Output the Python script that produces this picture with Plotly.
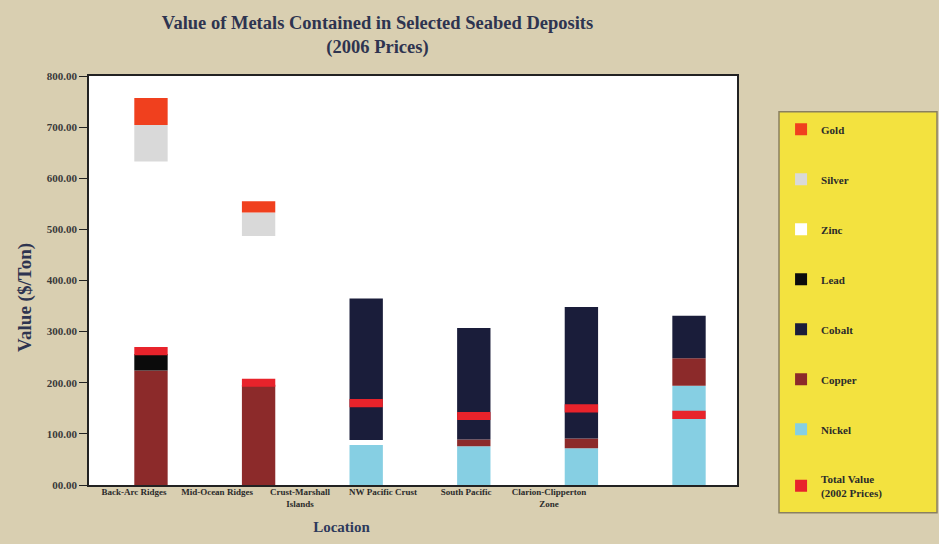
import plotly.graph_objects as go

categories = ["Back-Arc Ridges", "Mid-Ocean Ridges", "Crust-Marshall<br>Islands",
              "NW Pacific Crust", "South Pacific", "Clarion-Clipperton<br>Zone"]
nickel = [0, 0, 78, 76, 72, 194]
copper = [224, 196, 0, 13, 19, 54]
lead = [32, 0, 0, 0, 0, 0]
zinc = [377, 291, 10, 0, 0, 0]
cobalt = [0, 0, 277, 218, 257, 83]
silver = [71, 46, 0, 0, 0, 0]
gold = [53, 22, 0, 0, 0, 0]
total_2002 = [262, 200, 160, 135, 150, 137]

y_tickvals = [0, 100, 200, 300, 400, 500, 600, 700, 800]
y_ticktext = ["00.00", "100.00", "200.00", "300.00", "400.00", "500.00",
              "600.00", "700.00", "800.00"]

SERIF = "Liberation Serif"
series = [
    ("Nickel", nickel, "#86cfe3", 7),
    ("Copper", copper, "#8c2a2a", 6),
    ("Lead", lead, "#0b0b0b", 4),
    ("Zinc", zinc, "#ffffff", 3),
    ("Cobalt", cobalt, "#1a1d3a", 5),
    ("Silver", silver, "#d9d9d9", 2),
    ("Gold", gold, "#f0401e", 1),
]

fig = go.Figure()
BAR_W = 0.31
base = [0] * len(categories)
for name, vals, color, rank in series:
    fig.add_trace(go.Bar(
        x=categories, y=vals, base=list(base), name=name, width=BAR_W,
        marker=dict(color=color, line=dict(width=0)),
        legendrank=rank, legendgroup=name,
    ))
    base = [b + v for b, v in zip(base, vals)]

MARK = 16
fig.add_trace(go.Bar(
    x=categories, y=[MARK] * len(total_2002),
    base=[t - MARK / 2 for t in total_2002],
    name="Total Value<br>(2002 Prices)", width=BAR_W,
    marker=dict(color="#e8232b", line=dict(width=0)),
    legendrank=8, legendgroup="total",
    customdata=total_2002, hovertemplate="%{customdata}<extra>Total Value (2002)</extra>",
))

# label axis (tick labels placed as in original)
fig.add_trace(go.Scatter(x=categories, y=[None] * len(categories), xaxis="x2",
                         showlegend=False, hoverinfo="skip", mode="markers"))

fig.update_layout(
    width=939, height=544,
    barmode="overlay",
    paper_bgcolor="#d9cfb1",
    plot_bgcolor="rgba(0,0,0,0)",
    margin=dict(l=89, r=202, t=76, b=57),
    font=dict(family=SERIF, color="#2b2b2b"),
    title=dict(
        text="<b>Value of Metals Contained in Selected Seabed Deposits<br>(2006 Prices)</b>",
        x=0.402, xanchor="center", y=0.947, yanchor="top",
        font=dict(family=SERIF, size=18.5, color="#2e3450"),
    ),
    xaxis=dict(
        type="category", range=[-0.576, 5.446], showticklabels=False,
        showline=True, linecolor="#222222", linewidth=1.5, mirror=True,
        ticks="", showgrid=False,
    ),
    xaxis2=dict(
        type="category", anchor="y", side="bottom",
        domain=[0.0054, 0.774], range=[-0.5, 5.5],
        showline=False, showgrid=False, ticks="",
        tickfont=dict(family=SERIF, size=9, color="#2b2b2b", weight="bold"),
        title=dict(text="<b>Location</b>", standoff=13,
                   font=dict(family=SERIF, size=15, color="#2e3a5c")),
    ),
    yaxis=dict(
        range=[0, 800], tickvals=y_tickvals, ticktext=y_ticktext,
        ticks="outside", ticklen=8, tickcolor="#222222",
        showline=True, linecolor="#222222", linewidth=1.5, mirror=True,
        showgrid=False, zeroline=False,
        tickfont=dict(family=SERIF, size=11, color="#3a3a3a", weight="bold"),
    ),
    annotations=[dict(
        text="<b>Value ($/Ton)</b>", textangle=-90, showarrow=False,
        xref="paper", yref="paper", x=(25 - 89) / 648, xanchor="center",
        y=(487 - 299) / 411, yanchor="middle",
        font=dict(family=SERIF, size=19, color="#2e3450"),
    )],
    shapes=[
        dict(type="rect", xref="paper", yref="paper", x0=0, x1=1, y0=0, y1=1,
             fillcolor="#ffffff", line=dict(width=0), layer="below"),
        dict(type="rect", xref="paper", yref="paper",
             x0=(779 - 89) / 648, x1=(937 - 89) / 648,
             y0=(487 - 515) / 411, y1=(487 - 112) / 411,
             fillcolor="#f3e23f", line=dict(color="#8a8060", width=1.5),
             layer="below"),
    ],
    legend=dict(
        x=1.068, xanchor="left", y=0.905, yanchor="top",
        bgcolor="rgba(0,0,0,0)", borderwidth=0,
        traceorder="grouped", tracegroupgap=31,
        font=dict(family=SERIF, size=11, color="#2b2b2b", weight="bold"),
    ),
    showlegend=True,
)

fig.write_html("out.html")
